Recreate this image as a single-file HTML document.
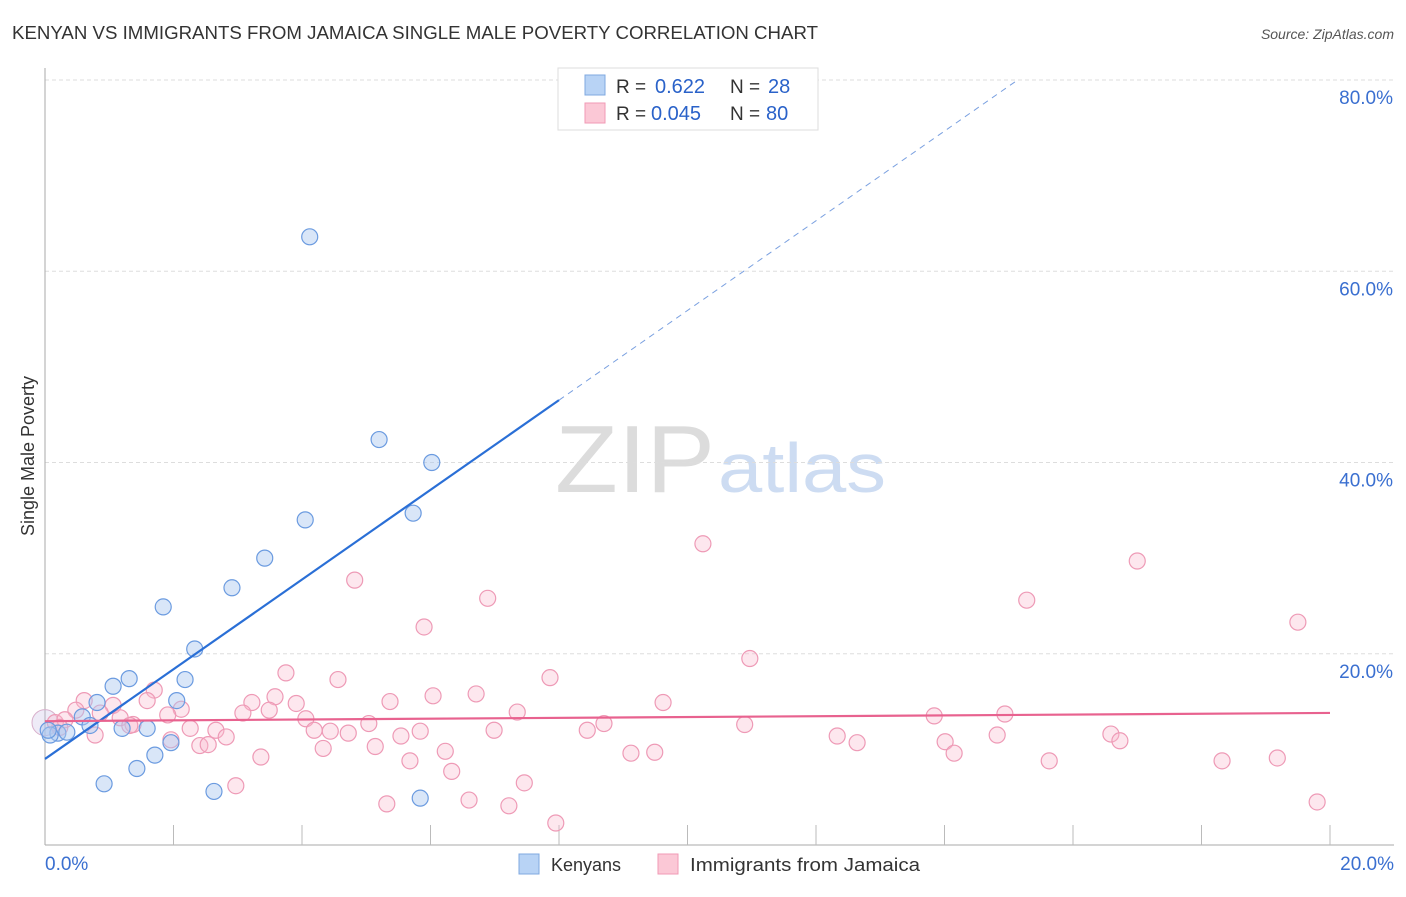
<!DOCTYPE html>
<html><head><meta charset="utf-8"><style>
body{margin:0;background:#fff;font-family:"Liberation Sans",sans-serif;}
svg text{font-family:"Liberation Sans",sans-serif;}
</style></head><body>
<svg id="chart" width="1406" height="892" xmlns="http://www.w3.org/2000/svg">
<text x="12" y="39" font-size="18" fill="#333" textLength="806" lengthAdjust="spacingAndGlyphs">KENYAN VS IMMIGRANTS FROM JAMAICA SINGLE MALE POVERTY CORRELATION CHART</text>
<text x="1394" y="39" font-size="14" fill="#555" text-anchor="end" font-style="italic">Source: ZipAtlas.com</text>
<g>
<text x="555" y="492" font-size="96" fill="#dcdcdc" font-family="Liberation Serif, serif" textLength="160" lengthAdjust="spacingAndGlyphs">ZIP</text>
<text x="718" y="492" font-size="70" fill="#cddcf2" textLength="168" lengthAdjust="spacingAndGlyphs">atlas</text>
</g>
<g id="grid"></g>
<g id="axes"></g>
<g id="marks"></g>
<text transform="translate(34,456) rotate(-90)" font-size="18" fill="#333" text-anchor="middle">Single Male Poverty</text>
<g>
<rect x="558" y="68" width="260" height="62" fill="#fff" stroke="#ddd"/>
<rect x="585" y="75" width="20" height="20" fill="#b8d3f5" stroke="#7fa8e0"/>
<rect x="585" y="103" width="20" height="20" fill="#fbc8d6" stroke="#f09ab5"/>
<text x="616" y="93" font-size="19" fill="#333">R =</text>
<text x="655" y="93" font-size="20" fill="#2a62c9">0.622</text>
<text x="730" y="93" font-size="19" fill="#333">N =</text>
<text x="768" y="93" font-size="20" fill="#2a62c9">28</text>
<text x="616" y="120" font-size="19" fill="#333">R =</text>
<text x="651" y="120" font-size="20" fill="#2a62c9">0.045</text>
<text x="730" y="120" font-size="19" fill="#333">N =</text>
<text x="766" y="120" font-size="20" fill="#2a62c9">80</text>
</g>
<g>
<rect x="519" y="854" width="20" height="20" fill="#b8d3f5" stroke="#7fa8e0"/>
<text x="551" y="871" font-size="18" fill="#333">Kenyans</text>
<rect x="658" y="854" width="20" height="20" fill="#fbc8d6" stroke="#f09ab5"/>
<text x="690" y="871" font-size="18" fill="#333" textLength="230" lengthAdjust="spacingAndGlyphs">Immigrants from Jamaica</text>
</g>
</svg>
<script>
const yTicks=[20,40,60,80];
const yTickLabels=["20.0%","40.0%","60.0%","80.0%"];
const xTickLabels=["0.0%","20.0%"];
const kenyanX=[4.12,5.20,6.02,4.05,5.73,3.42,2.91,1.84,2.33,1.31,2.18,1.06,0.81,2.05,0.58,0.70,1.20,1.59,0.20,0.08,0.34,1.71,1.96,1.43,0.92,2.63,5.84,0.05];
const kenyanY=[63.6,42.4,40.0,34.0,34.7,30.0,26.9,24.9,20.5,17.4,17.3,16.6,14.9,15.1,13.4,12.5,12.2,12.2,11.7,11.5,11.8,9.4,10.7,8.0,6.4,5.6,4.9,12.0];
const jamX=[10.24,17.00,4.82,6.89,15.28,19.50,5.90,10.97,3.75,4.56,7.86,1.70,6.04,6.71,3.58,0.61,3.22,5.37,9.62,1.59,2.12,3.91,3.49,3.08,7.35,13.84,14.94,4.06,1.06,0.48,0.86,1.17,1.37,5.04,1.91,8.70,0.16,0.31,2.26,2.66,4.19,4.44,6.99,8.44,10.89,4.72,5.84,5.54,12.33,16.59,14.82,2.82,2.41,5.14,4.33,12.64,14.01,16.73,2.54,6.23,9.12,9.49,14.15,5.68,15.63,18.32,19.18,3.36,6.33,7.46,2.97,5.32,6.60,7.22,7.95,19.80,1.32,0.23,0.78,1.96];
const jamY=[31.5,29.7,27.7,25.8,25.6,23.3,22.8,19.5,18.0,17.3,17.5,16.2,15.6,15.8,15.5,15.1,14.9,15.0,14.9,15.1,14.2,14.8,14.1,13.8,13.9,13.5,13.7,13.2,14.6,14.1,13.8,13.3,12.6,12.7,13.6,12.7,12.8,13.1,12.2,12.0,12.0,11.9,12.0,12.0,12.6,11.7,11.9,11.4,11.4,11.6,11.5,11.3,10.4,10.3,10.1,10.7,10.8,10.9,10.5,9.8,9.6,9.7,9.6,8.8,8.8,8.8,9.1,9.2,7.7,6.5,6.2,4.3,4.7,4.1,2.3,4.5,12.5,12.3,11.5,11.0];
const kenyanTrend=[9.0,4.69];
const jamTrend=[12.95,0.043];
const NS="http://www.w3.org/2000/svg";
const sx=v=>45+v/20*1285;
const sy=v=>845-v/80*765;
function mk(tag,attrs,parent){const e=document.createElementNS(NS,tag);for(const k in attrs)e.setAttribute(k,attrs[k]);parent.appendChild(e);return e;}
const grid=document.getElementById('grid'),axes=document.getElementById('axes'),marks=document.getElementById('marks');
yTicks.forEach((t,i)=>{
 const l=mk('line',{x1:45,x2:1394,y1:sy(t),y2:sy(t),stroke:'#ddd','stroke-dasharray':'4,3'},grid);
 
 
 const tx=mk('text',{x:1393,y:sy(t)+24,'font-size':19,fill:'#3a6fd0','text-anchor':'end'},axes);
 tx.textContent=yTickLabels[i];
 
 
});
let a=mk('line',{x1:45,x2:45,y1:68,y2:845,stroke:'#aaa'},axes);


a=mk('line',{x1:45,x2:1394,y1:845,y2:845,stroke:'#aaa'},axes);


for(let i=1;i<=10;i++){const t=mk('line',{x1:sx(i*2),x2:sx(i*2),y1:825,y2:845,stroke:'#bbb'},axes);
 
 }
[[0,'start',45],[20,'end',1394]].forEach((d,i)=>{const t=mk('text',{x:d[2],y:870,'font-size':19,fill:'#3a6fd0','text-anchor':d[1]},axes);t.textContent=xTickLabels[i];
 
 });
let b=mk('circle',{cx:sx(0),cy:sy(12.8),r:13,fill:'rgba(200,190,230,0.3)',stroke:'#d8b0cc'},marks);


jamX.forEach((x,i)=>{const c=mk('circle',{cx:sx(x),cy:sy(jamY[i]),r:8,fill:'rgba(248,185,205,0.35)',stroke:'#ee9ab6','stroke-width':1.2},marks);
 
 });
kenyanX.forEach((x,i)=>{const c=mk('circle',{cx:sx(x),cy:sy(kenyanY[i]),r:8,fill:'rgba(170,200,240,0.45)',stroke:'#6b9be0','stroke-width':1.2},marks);
 
 });
const kx1=8.0,kx2=(80-kenyanTrend[0])/kenyanTrend[1];
let ln=mk('line',{x1:sx(0),y1:sy(kenyanTrend[0]),x2:sx(kx1),y2:sy(kenyanTrend[0]+kenyanTrend[1]*kx1),stroke:'#2a6fd6','stroke-width':2.2},marks);


ln=mk('line',{x1:sx(kx1),y1:sy(kenyanTrend[0]+kenyanTrend[1]*kx1),x2:sx(kx2),y2:sy(80),stroke:'#7aa0e0','stroke-width':1,'stroke-dasharray':'6,5'},marks);


ln=mk('line',{x1:sx(0),y1:sy(jamTrend[0]),x2:sx(20),y2:sy(jamTrend[0]+jamTrend[1]*20),stroke:'#e8628f','stroke-width':2.2},marks);


</script>
</body></html>
